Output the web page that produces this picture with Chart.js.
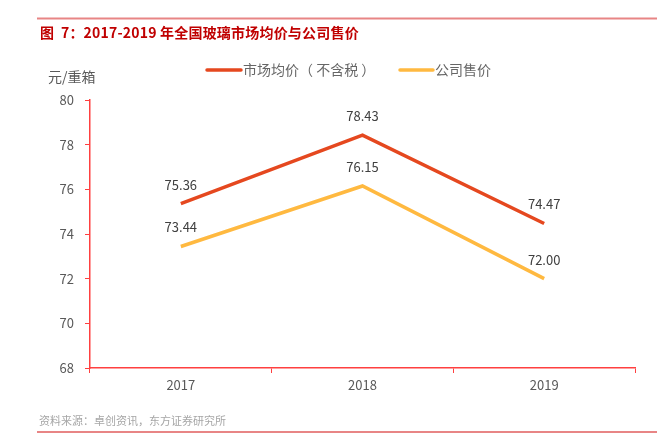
<!DOCTYPE html>
<html>
<head>
<meta charset="utf-8">
<script src="https://cdn.jsdelivr.net/npm/chart.js@4/dist/chart.umd.min.js"></script>
<style>
  html, body { margin: 0; padding: 0; background: #fff; }
  #wrap { width: 657px; height: 441px; position: relative; }
</style>
</head>
<body>
<div id="wrap"><canvas id="chart" width="657" height="441"></canvas></div>
<script>
/* Data */
var years = [ "2017", "2018", "2019" ];
var marketPrice = [ 75.36, 78.43, 74.47 ];
var companyPrice = [ 73.44, 76.15, 72.00 ];
var yTicks = [ 68, 70, 72, 74, 76, 78, 80 ];

var FONT = '"Noto Sans CJK SC", "Noto Sans", sans-serif';
var RED = '#E5481F';
var ORANGE = '#FFB940';
var AXIS = '#FF4040';

/* Page decorations: frame lines, title, unit, legend, source */
var decor = {
	id: 'decor',
	afterDraw: function( chart ) {
		var c = chart.ctx;
		c.save();
		c.strokeStyle = '#E88585';
		c.lineWidth = 2;
		c.beginPath(); c.moveTo( 37, 18.5 ); c.lineTo( 657, 18.5 ); c.stroke();
		c.beginPath(); c.moveTo( 37, 432 ); c.lineTo( 657, 432 ); c.stroke();

		c.fillStyle = '#C00000';
		c.font = 'bold 14px ' + FONT;
		c.textBaseline = 'middle';
		c.textAlign = 'left';
		c.letterSpacing = '0.2px';
		c.fillText( '图  7：2017-2019 年全国玻璃市场均价与公司售价', 40, 33 );
		c.letterSpacing = '0px';

		c.fillStyle = '#595959';
		c.font = '14px ' + FONT;
		c.fillText( '元/重箱', 48, 77 );

		c.fillStyle = '#A6A6A6';
		c.font = '11px ' + FONT;
		c.fillText( '资料来源：卓创资讯，东方证券研究所', 39, 421 );

		// legend
		var items = [ { x: 207, w: 34 }, { x: 400, w: 33 } ];
		chart.data.datasets.forEach(function( ds, i ) {
			c.strokeStyle = ds.borderColor;
			c.lineWidth = 3.5;
			c.lineCap = 'round';
			c.beginPath(); c.moveTo( items[i].x, 70 ); c.lineTo( items[i].x + items[i].w, 70 ); c.stroke();
			c.fillStyle = '#666666';
			c.font = '14px ' + FONT;
			c.fillText( ds.label, items[i].x + items[i].w + 2, 70 );
		});

		// value labels
		c.fillStyle = '#404040';
		c.font = '13px ' + FONT;
		c.textAlign = 'center';
		c.textBaseline = 'middle';
		chart.data.datasets.forEach(function( ds, i ) {
			chart.getDatasetMeta( i ).data.forEach(function( pt, j ) {
				c.fillText( ds.data[j].toFixed( 2 ), pt.x, pt.y - 19 );
			});
		});
		c.restore();
	}
};

var ctx = document.getElementById("chart").getContext('2d');
var myChart = new Chart(ctx, {
	type: 'line',
	data: {
		labels: years,
		datasets: [{
			label: '市场均价（ 不含税 ）',
			data: marketPrice,
			borderColor: RED,
			backgroundColor: RED,
			borderWidth: 3.5,
			pointRadius: 0,
			tension: 0
		}, {
			label: '公司售价',
			data: companyPrice,
			borderColor: ORANGE,
			backgroundColor: ORANGE,
			borderWidth: 3.5,
			pointRadius: 0,
			tension: 0
		}]
	},
	options: {
		responsive: false,
		animation: false,
		devicePixelRatio: 1,
		layout: { padding: { left: 50, top: 100, right: 22, bottom: 43 } },
		plugins: { legend: { display: false }, tooltip: { enabled: false } },
		scales: {
			x: {
				offset: true,
				grid: { drawOnChartArea: false, drawTicks: true, tickLength: 5, color: AXIS, offset: true },
				border: { color: AXIS, width: 1.5 },
				ticks: { color: '#595959', font: { family: FONT, size: 13 }, padding: 4 },
				afterFit: function( s ) { s.height = 30; }
			},
			y: {
				min: 68, max: 80,
				afterBuildTicks: function( s ) { s.ticks = yTicks.map(function( v ) { return { value: v }; }); },
				grid: { drawOnChartArea: false, drawTicks: true, tickLength: 5, color: AXIS },
				border: { color: AXIS, width: 1.5 },
				ticks: { color: '#595959', font: { family: FONT, size: 13 }, padding: 11 },
				afterFit: function( s ) { s.width = 40; }
			}
		}
	},
	plugins: [ decor ]
});
</script>
</body>
</html>
